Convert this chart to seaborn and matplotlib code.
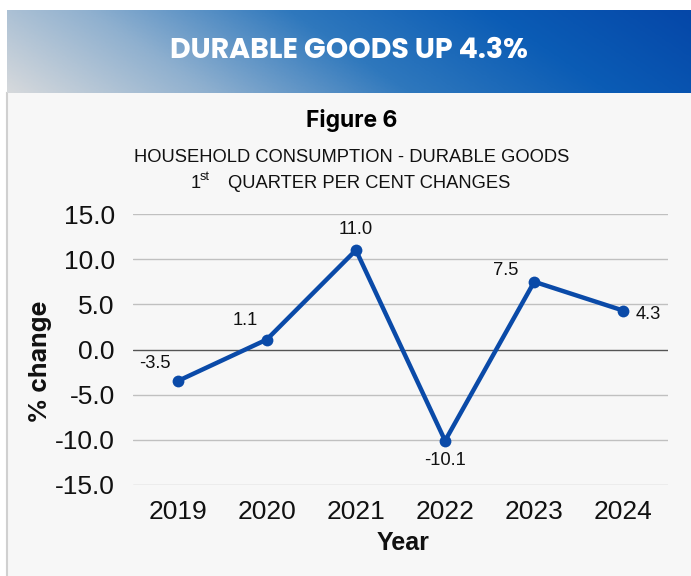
import numpy as np
import pandas as pd
import matplotlib
matplotlib.use("Agg")
import matplotlib.pyplot as plt
import seaborn as sns
from matplotlib.colors import LinearSegmentedColormap

years = ["2019", "2020", "2021", "2022", "2023", "2024"]
values = [-3.5, 1.1, 11.0, -10.1, 7.5, 4.3]
yticks = [-15.0, -10.0, -5.0, 0.0, 5.0, 10.0, 15.0]
header_title = "DURABLE GOODS UP 4.3%"
figure_title = "Figure 6"
subtitle1 = "HOUSEHOLD CONSUMPTION - DURABLE GOODS"
subtitle2 = "QUARTER PER CENT CHANGES"
x_label = "Year"
y_label = "% change"

sns.set_theme(style="white")
plt.rcParams['font.family'] = ['Liberation Sans', 'DejaVu Sans']

W, H = 691, 576
fig = plt.figure(figsize=(W / 100, H / 100), dpi=100)
fig.patch.set_facecolor("white")

# panel background
bg = fig.add_axes([7 / W, 0, 1 - 7 / W, 1 - 93 / H])
bg.set_facecolor("#f7f7f7")
for s in bg.spines.values():
    s.set_visible(False)
bg.spines["left"].set_visible(True)
bg.spines["left"].set_color("#d0d0d0")
bg.spines["left"].set_linewidth(1.5)
bg.set_xticks([]); bg.set_yticks([])

# header gradient
hd = fig.add_axes([7 / W, 1 - 93 / H, 1 - 7 / W, 83 / H])
nx, ny = 400, 60
xx, yy = np.meshgrid(np.linspace(0, 1, nx), np.linspace(0, 1, ny))
grad = np.clip(xx * 0.85 + (1 - yy) * 0.15, 0, 1)
cmap = LinearSegmentedColormap.from_list(
    "hdr", [(0, "#d6d9dc"), (0.25, "#8fb0cf"), (0.5, "#2f78bd"), (0.75, "#0b5cb5"), (1, "#0547a8")])
hd.imshow(grad, cmap=cmap, aspect="auto", extent=[0, 1, 0, 1], origin="upper")
hd.set_axis_off()
hd.text(0.5, 0.5, header_title, color="white", fontsize=20.5, fontweight="bold",
        family=["Poppins", "Inter", "DejaVu Sans"], ha="center", va="center",
        transform=hd.transAxes)

fig.text(352 / W, 1 - 121 / H, figure_title, fontsize=16.5, fontweight="bold",
         color="black", family=["Inter", "DejaVu Sans"], ha="center", va="center")
fig.text(352 / W, 1 - 158 / H, subtitle1, fontsize=13.2, ha="center", va="center",
         color="#111111")
fig.text(191 / W, 1 - 184 / H, "1", fontsize=13.2, ha="left", va="center", color="#111111")
fig.text(200 / W, 1 - 177 / H, "st", fontsize=9, ha="left", va="center", color="#111111")
fig.text(228 / W, 1 - 184 / H, subtitle2, fontsize=13.2, ha="left", va="center",
         color="#111111")

ax = fig.add_axes([133 / W, 1 - 485 / H, (668 - 133) / W, (485 - 214) / H])
ax.set_facecolor("none")
df = pd.DataFrame({"Year": years, "Change": values})
sns.lineplot(data=df, x="Year", y="Change", ax=ax, color="#0a4aa8", linewidth=3.2,
             marker="o", markersize=8.5, markeredgewidth=0, sort=False)
ax.set_xlim(-0.5, len(years) - 0.5)
ax.set_ylim(-15, 15)
ax.set_yticks(yticks)
ax.set_yticklabels([f"{v:.1f}" for v in yticks], fontsize=19, color="#111111")
ax.tick_params(axis="x", labelsize=19, length=0, pad=11, labelcolor="#111111")
ax.tick_params(axis="y", length=0, pad=13)
for s in ax.spines.values():
    s.set_visible(False)
for v in yticks:
    ax.axhline(v, color="#555555" if v == 0 else "#c0c0c0", linewidth=1.0, zorder=0)
ax.set_xlabel("")
ax.set_ylabel("")
fig.text(403 / W, 1 - 543 / H, x_label, fontsize=18, fontweight="bold",
         ha="center", va="center", color="#111111")
fig.text(40 / W, 1 - 362 / H, y_label, fontsize=18, fontweight="bold", rotation=90,
         ha="center", va="center", color="#111111", family=["Inter", "DejaVu Sans"])

offsets = [(-23, 18), (-22, 19), (0, 21), (0, -20), (-29, 11), (25, -4)]
for i, (v, (dx, dy)) in enumerate(zip(values, offsets)):
    ax.annotate(f"{v:.1f}", (i, v), xytext=(dx, dy), textcoords="offset pixels",
                ha="center", va="center", fontsize=13.2, color="#111111")

fig.savefig("out.png", dpi=100)
